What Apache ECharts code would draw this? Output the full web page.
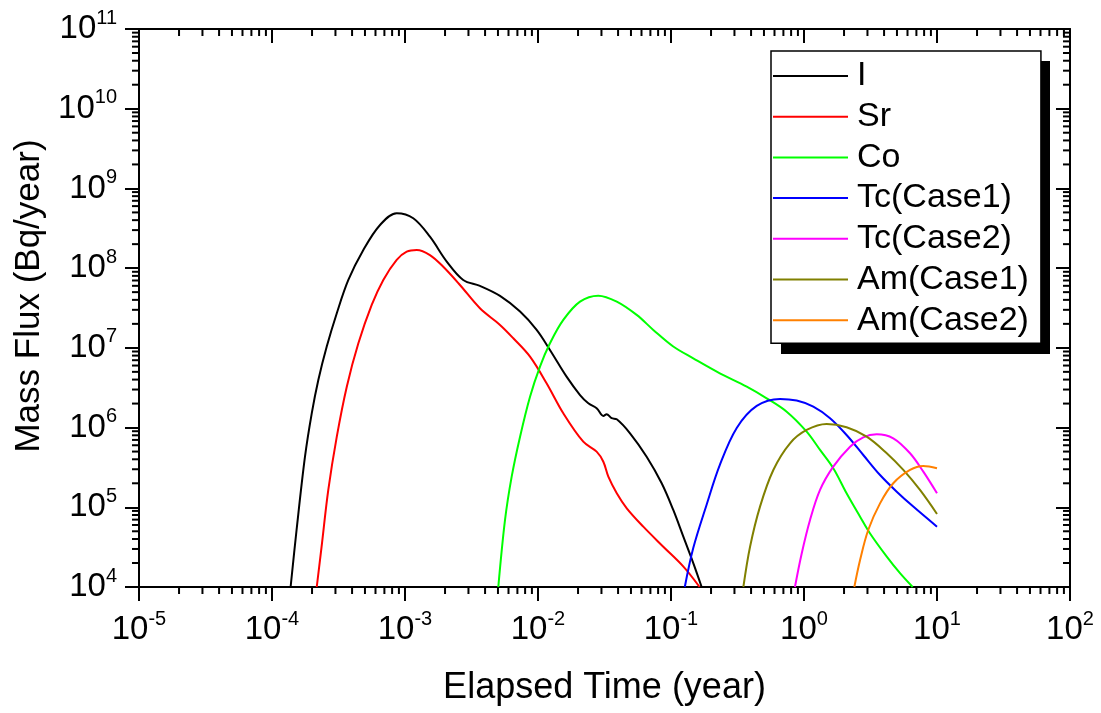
<!DOCTYPE html>
<html>
<head>
<meta charset="utf-8">
<style>
    html, body { margin: 0; padding: 0; background: #ffffff; }
    #chart { width: 1101px; height: 713px; }
</style>
<script src="https://cdn.jsdelivr.net/npm/echarts@6/dist/echarts.min.js"></script>
</head>
<body>
<div id="chart"></div>
<script>
// Valeurs (temps en années, flux en Bq/an)
const iTime = [1.38e-4, 1.53e-4, 1.77e-4, 1.99e-4, 2.23e-4, 2.58e-4, 3.07e-4, 3.75e-4, 4.86e-4, 6.49e-4, 8.66e-4, 1.154e-3, 1.54e-3, 2.06e-3, 2.74e-3, 3.66e-3, 5.18e-3, 7.33e-3, 9.77e-3, 1.23e-2, 1.64e-2, 2.07e-2, 2.39e-2, 2.76e-2, 3.10e-2, 3.28e-2, 3.58e-2, 3.91e-2, 4.92e-2, 6.56e-2, 8.51e-2, 0.104, 0.1238, 0.1473, 0.170];
const iFlux = [1e4, 5.19e4, 4.31e5, 1.51e6, 3.96e6, 1.04e7, 2.72e7, 7.11e7, 1.69e8, 3.48e8, 4.89e8, 4.23e8, 2.48e8, 1.21e8, 7.11e7, 5.98e7, 4.48e7, 2.85e7, 1.68e7, 9.41e6, 4.35e6, 2.56e6, 2.02e6, 1.75e6, 1.40e6, 1.47e6, 1.31e6, 1.27e6, 8.48e5, 4.31e5, 2.0e5, 9.25e4, 4.28e4, 1.98e4, 1e4];

const srTime = [2.17e-4, 2.36e-4, 2.65e-4, 3.07e-4, 3.65e-4, 4.46e-4, 5.62e-4, 6.87e-4, 8.66e-4, 1.03e-3, 1.225e-3, 1.54e-3, 1.94e-3, 2.59e-3, 3.66e-3, 5.18e-3, 6.52e-3, 8.71e-3, 1.16e-2, 1.55e-2, 2.19e-2, 2.76e-2, 3.10e-2, 3.38e-2, 3.91e-2, 4.65e-2, 6.19e-2, 8.75e-2, 0.124, 0.164];
const srFlux = [1e4, 3.2e4, 1.65e5, 7.69e5, 3.26e6, 1.14e7, 3.45e7, 7.11e7, 1.27e8, 1.61e8, 1.69e8, 1.46e8, 1.04e8, 6.15e7, 3.14e7, 1.94e7, 1.32e7, 7.76e6, 3.6e6, 1.51e6, 6.65e5, 4.99e5, 3.73e5, 2.42e5, 1.5e5, 9.71e4, 5.71e4, 3.2e4, 1.8e4, 1e4];

const coTime = [5.03e-3, 5.65e-3, 6.34e-3, 7.33e-3, 8.71e-3, 1.035e-2, 1.23e-2, 1.55e-2, 2.07e-2, 2.84e-2, 3.91e-2, 5.52e-2, 7.36e-2, 0.104, 0.147, 0.233, 0.371, 0.524, 0.741, 1.047, 1.32, 1.66, 2.09, 2.64, 3.13, 4.19, 5.27, 6.56];
const coFlux = [1e4, 6.93e4, 2.42e5, 7.69e5, 2.44e6, 5.81e6, 1.14e7, 2.24e7, 3.8e7, 4.52e7, 3.8e7, 2.59e7, 1.68e7, 1.04e7, 7.4e6, 4.8e6, 3.26e6, 2.33e6, 1.58e6, 8.88e5, 5.24e5, 3.09e5, 1.5e5, 7.62e4, 4.72e4, 2.4e4, 1.49e4, 1e4];

const tc1Time = [0.127, 0.147, 0.185, 0.233, 0.312, 0.441, 0.661, 0.881, 1.175, 1.57, 2.09, 2.79, 3.73, 4.98, 6.63, 10];
const tc1Flux = [1e4, 3.08e4, 1.07e5, 3.4e5, 9.89e5, 1.87e6, 2.29e6, 2.18e6, 1.83e6, 1.31e6, 8.07e5, 4.53e5, 2.54e5, 1.57e5, 1.02e5, 5.71e4];

const tc2Time = [0.855, 0.962, 1.11, 1.32, 1.66, 2.22, 2.79, 3.52, 4.69, 6.27, 7.89, 10];
const tc2Flux = [1e4, 2.65e4, 6.93e4, 1.65e5, 3.23e5, 5.76e5, 7.55e5, 8.24e5, 7.34e5, 4.76e5, 2.8e5, 1.5e5];

const am1Time = [0.350, 0.393, 0.467, 0.588, 0.785, 1.047, 1.48, 2.09, 2.96, 4.19, 5.58, 7.45, 10];
const am1Flux = [1e4, 3.2e4, 1.02e5, 2.94e5, 6.35e5, 9.33e5, 1.11e6, 1.01e6, 7.69e5, 4.76e5, 2.94e5, 1.65e5, 8.24e4];

const am2Time = [2.39, 2.64, 3.04, 3.73, 4.69, 6.27, 7.89, 10];
const am2Flux = [1e4, 2.18e4, 5.19e4, 1.12e5, 2.0e5, 2.94e5, 3.3e5, 3.09e5];

const seriesNames = ['I', 'Sr', 'Co', 'Tc(Case1)', 'Tc(Case2)', 'Am(Case1)', 'Am(Case2)'];
const seriesColors = ['#000000', '#ff0000', '#00ff00', '#0000ff', '#ff00ff', '#808000', '#ff8000'];
const seriesTimes = [iTime, srTime, coTime, tc1Time, tc2Time, am1Time, am2Time];
const seriesFluxes = [iFlux, srFlux, coFlux, tc1Flux, tc2Flux, am1Flux, am2Flux];

// Bornes des axes (décades)
const xMin = 1e-5, xMax = 1e2;
const yMin = 1e4, yMax = 1e11;

const font = '"Liberation Sans", Arial, sans-serif';
const majorLen = 14;
const minorLen = 7;

// Graduations secondaires 2..9 x 10^n
function minorValues(lo, hi) {
    const vals = [];
    for (let e = Math.round(Math.log10(lo)); e < Math.round(Math.log10(hi)); e++) {
        for (let k = 2; k <= 9; k++) vals.push(k * Math.pow(10, e));
    }
    return vals;
}

function powerLabel(value) {
    const e = Math.round(Math.log10(value));
    return '{b|10}{s|' + e + '}';
}

const labelRich = {
    b: { fontSize: 33, fontFamily: font, color: '#000' },
    s: { fontSize: 20, fontFamily: font, color: '#000', padding: [0, 0, 22, 0] }
};

const chart = echarts.init(document.getElementById('chart'), null, { renderer: 'canvas' });

function baseAxis(extra) {
    return Object.assign({
        type: 'log',
        logBase: 10,
        interval: 1,
        splitLine: { show: false },
        axisLine: { show: true, lineStyle: { color: '#000', width: 2 } },
        axisTick: { show: true, length: majorLen, lineStyle: { color: '#000', width: 2 } }
    }, extra);
}

const lineSeries = seriesNames.map((name, i) => ({
    name: name,
    type: 'line',
    data: seriesTimes[i].map((t, j) => [t, seriesFluxes[i][j]]),
    showSymbol: false,
    symbol: 'none',
    smooth: 0.35,
    lineStyle: { color: seriesColors[i], width: 2 },
    itemStyle: { color: seriesColors[i] },
    z: 3
}));

// Petites graduations dessinées via les échelles de la bibliothèque
const minorXSeries = {
    type: 'custom',
    silent: true,
    clip: false,
    z: 10,
    data: minorValues(xMin, xMax).map(v => [v, yMin]),
    renderItem: function (params, api) {
        const v = api.value(0);
        const b = api.coord([v, yMin]);
        const t = api.coord([v, yMax]);
        const st = { stroke: '#000', lineWidth: 2 };
        return {
            type: 'group',
            children: [
                { type: 'line', shape: { x1: b[0], y1: b[1], x2: b[0], y2: b[1] + minorLen }, style: st },
                { type: 'line', shape: { x1: t[0], y1: t[1], x2: t[0], y2: t[1] + minorLen }, style: st }
            ]
        };
    }
};

const minorYSeries = {
    type: 'custom',
    silent: true,
    clip: false,
    z: 10,
    data: minorValues(yMin, yMax).map(v => [xMin, v]),
    renderItem: function (params, api) {
        const v = api.value(1);
        const l = api.coord([xMin, v]);
        const r = api.coord([xMax, v]);
        const st = { stroke: '#000', lineWidth: 2 };
        return {
            type: 'group',
            children: [
                { type: 'line', shape: { x1: l[0], y1: l[1], x2: l[0] - minorLen, y2: l[1] }, style: st },
                { type: 'line', shape: { x1: r[0], y1: r[1], x2: r[0] - minorLen, y2: r[1] }, style: st }
            ]
        };
    }
};

const option = {
    animation: false,
    backgroundColor: '#ffffff',
    grid: { left: 139, right: 31, top: 29, bottom: 126, containLabel: false },
    // ombre portée de la légende
    graphic: [{
        type: 'rect',
        left: 781,
        top: 61,
        z: 1,
        shape: { width: 269, height: 293 },
        style: { fill: '#000000' }
    }],
    legend: {
        orient: 'vertical',
        left: 771,
        top: 51,
        z: 20,
        data: seriesNames,
        icon: 'rect',
        itemWidth: 75,
        itemHeight: 2,
        itemGap: 6.7,
        padding: [8, 12, 6, 2],
        backgroundColor: '#ffffff',
        borderColor: '#000000',
        borderWidth: 1.5,
        selectedMode: false,
        textStyle: { fontSize: 34, lineHeight: 34, fontFamily: font, color: '#000', padding: [0, 0, 0, 4] }
    },
    xAxis: [
        baseAxis({
            min: xMin, max: xMax,
            position: 'bottom',
            name: 'Elapsed Time (year)',
            nameLocation: 'middle',
            nameGap: 83,
            nameTextStyle: { fontSize: 36, fontFamily: font, color: '#000' },
            axisLabel: { show: true, margin: 22, formatter: powerLabel, rich: labelRich }
        }),
        baseAxis({
            min: xMin, max: xMax,
            position: 'top',
            axisTick: { show: true, inside: true, length: majorLen, lineStyle: { color: '#000', width: 2 } },
            axisLabel: { show: false }
        })
    ],
    yAxis: [
        baseAxis({
            min: yMin, max: yMax,
            position: 'left',
            name: 'Mass Flux (Bq/year)',
            nameLocation: 'middle',
            nameGap: 92,
            nameTextStyle: { fontSize: 35, fontFamily: font, color: '#000', padding: [0, 0, 0, 24] },
            axisLabel: { show: true, margin: 22, formatter: powerLabel, rich: labelRich }
        }),
        baseAxis({
            min: yMin, max: yMax,
            position: 'right',
            axisTick: { show: true, inside: true, length: majorLen, lineStyle: { color: '#000', width: 2 } },
            axisLabel: { show: false }
        })
    ],
    series: lineSeries.concat([minorXSeries, minorYSeries])
};

chart.setOption(option);
</script>
</body>
</html>
